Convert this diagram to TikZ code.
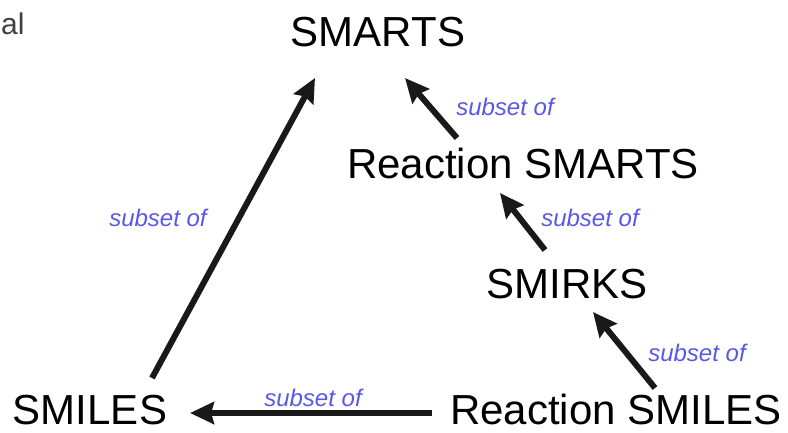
\documentclass[tikz,border=0pt]{standalone}
\usepackage{fontspec}
\setmainfont{Liberation Sans}
\usepackage{xcolor}
\usetikzlibrary{arrows.meta,calc}
\definecolor{subsetblue}{RGB}{88,88,232}
\tikzset{
  fmt/.style   ={anchor=base, inner sep=0pt, font=\fontsize{42}{46}\selectfont},
  lbl/.style   ={anchor=base, inner sep=0pt, text=subsetblue, font=\fontsize{24}{28}\selectfont\itshape},
  arr/.style   ={-{Stealth[length=24pt, width=22pt, inset=3pt]}, line width=6pt, color=black!90},
}

\begin{document}
\begin{tikzpicture}[x=1pt, y=-1pt]
  \useasboundingbox (0,0) rectangle (788,432);
  \node[anchor=base west, inner sep=0pt, text=black!75, font=\fontsize{30}{34}\selectfont] (cut) at (1,34) {al};

  \node[fmt] (smarts)    at (378,46)  {SMARTS};
  \node[fmt] (rxnsmarts) at (523,178) {Reaction SMARTS};
  \node[fmt] (smirks)    at (567,298) {SMIRKS};
  \node[fmt] (smiles)    at (90,424)  {SMILES};
  \node[fmt] (rxnsmiles) at (616,424) {Reaction SMILES};

  \draw[arr] ([shift={(62,-46)}]smiles.base)    -- ([shift={(-63,32)}]smarts.base);
  \draw[arr] ([shift={(-184,-11)}]rxnsmiles.base) -- ([shift={(100,-11)}]smiles.base);
  \draw[arr] ([shift={(39,-36)}]rxnsmiles.base)  -- ([shift={(26,14)}]smirks.base);
  \draw[arr] ([shift={(-22,-48)}]smirks.base)    -- ([shift={(-23,15)}]rxnsmarts.base);
  \draw[arr] ([shift={(-66,-40)}]rxnsmarts.base) -- ([shift={(27,32)}]smarts.base);

  \node[lbl] (l1) at (158,226) {subset of};
  \node[lbl] (l2) at (313,406) {subset of};
  \node[lbl] (l3) at (697,361) {subset of};
  \node[lbl] (l4) at (590,226) {subset of};
  \node[lbl] (l5) at (505,115) {subset of};
\end{tikzpicture}
\end{document}
